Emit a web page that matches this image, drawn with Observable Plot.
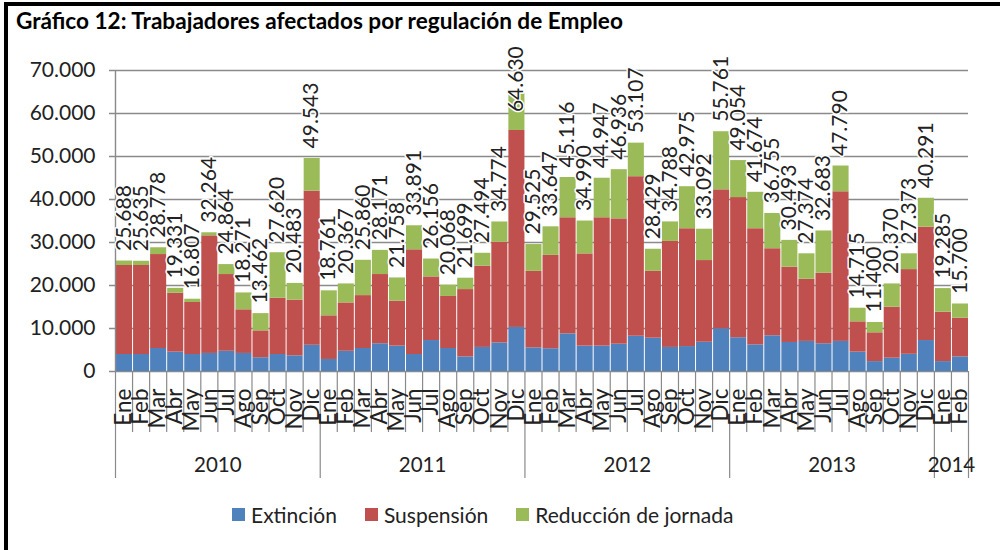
<!DOCTYPE html>
<html><head><meta charset="utf-8">
<script src="https://cdn.jsdelivr.net/npm/d3@7"></script>
<script src="https://cdn.jsdelivr.net/npm/@observablehq/plot@0.6"></script>
<style>
body{margin:0;background:#fff;font-family:Lato,"Open Sans",sans-serif;}
#wrap{position:relative;width:1000px;height:550px;overflow:hidden;background:#fff}
#frameTop{position:absolute;left:4px;top:2px;width:996px;height:4px;background:#000}
#frameLeft{position:absolute;left:4px;top:2px;width:4px;height:548px;background:#000}
#title{position:absolute;left:16px;top:7px;font-weight:bold;font-size:22.6px;color:#000;white-space:nowrap}
#chart{position:absolute;left:0;top:0}
#legend{position:absolute;top:502px;left:232px;display:flex;align-items:center;gap:28px;font-size:21px;color:#222}
.item{display:flex;align-items:center;gap:6px}
.sw{width:13px;height:13px;display:inline-block}
</style></head>
<body>
<div id="wrap">
  <div id="chart"></div>
  <div id="frameTop"></div><div id="frameLeft"></div>
  <div id="title">Gráfico 12: Trabajadores afectados por regulación de Empleo</div>
  <div id="legend"></div>
</div>
<script>
const monthNames = ["Ene","Feb","Mar","Abr","May","Jun","Jul","Ago","Sep","Oct","Nov","Dic"];
const years = ["2010","2011","2012","2013","2014"];
const monthsPerYear = [12,12,12,12,2];

const seriesNames = ["Extinción","Suspensión","Reducción de jornada"];
const seriesColors = ["#4F81BD","#C0504D","#9BBB59"];

const extincion = [
  3950,3950,5350,4500,3950,4200,4700,4200,3200,3950,3650,6100,
  2800,4700,5350,6450,5900,3950,7200,5350,3400,5600,6650,10250,
  5500,5300,8750,5900,5900,6350,8200,7750,5600,5800,6800,9950,
  7850,6200,8300,6750,7000,6450,7000,4500,2300,3100,4000,7200,
  2300,3400];
const suspension = [
  20700,20700,21850,13700,12100,27350,17850,10150,6250,13100,12950,35850,
  10150,11250,12300,16100,10450,24350,14800,12100,15650,18900,23400,45800,
  17800,21700,27000,21450,29850,29150,37100,15550,24650,27400,19000,32300,
  32600,27000,20250,17500,14450,16400,34800,7050,6700,11850,19700,26350,
  11500,9000];
const reduccion = [
  1038,985,1578,1131,757,714,2314,3921,4012,10570,3883,7593,
  5811,4417,8210,5621,5408,5591,4156,2618,2649,2994,4724,8580,
  6225,6647,9366,7640,9197,11436,7807,5129,4538,9775,7292,13511,
  8604,8474,8205,6243,5924,9833,5990,3165,2400,5420,3673,6741,
  5485,3300];
const totales = [
  25688,25635,28778,19331,16807,32264,24864,18271,13462,27620,20483,49543,
  18761,20367,25860,28171,21758,33891,26156,20068,21699,27494,34774,64630,
  29525,33647,45116,34990,44947,46936,53107,28429,34788,42975,33092,55761,
  49054,41674,36755,30493,27374,32683,47790,14715,11400,20370,27373,40291,
  19285,15700];
const yTicks = [0,10000,20000,30000,40000,50000,60000,70000];
const yMax = 70000;
const labelCeiling = 58000; // labels are kept inside the plot area, as in the original

// categories
const categories = [];
years.forEach((y, k) => { for (let m = 0; m < monthsPerYear[k]; m++) categories.push({year: y, month: monthNames[m]}); });
const N = categories.length;
const idx = d3.range(N);

const rows = [];
const seriesValues = [extincion, suspension, reduccion];
seriesNames.forEach((s, k) => idx.forEach(i => rows.push({i, serie: s, value: seriesValues[k][i]})));

// year groups
const yearGroups = [];
let start = 0;
years.forEach((y, k) => { yearGroups.push({year: y, start, end: start + monthsPerYear[k]}); start += monthsPerYear[k]; });
const yearBounds = [0, ...yearGroups.map(g => g.end)];

const loc = d3.formatLocale({decimal: ",", thousands: ".", grouping: [3], currency: ["", "€"]});
const fmt = loc.format(",d");

const grid = "#8a8a8a";
const font = "Lato, 'Open Sans', sans-serif";

const chart = Plot.plot({
  width: 1000, height: 500,
  marginLeft: 115, marginRight: 32, marginTop: 70, marginBottom: 129,
  style: {fontFamily: font, background: "transparent", color: "#222"},
  x: {domain: [0, N], axis: null},
  y: {domain: [0, yMax], axis: null},
  color: {domain: seriesNames, range: seriesColors},
  marks: [
    Plot.ruleY(yTicks, {y: d => d, stroke: grid, strokeWidth: 1.4, insetLeft: -6}),
    Plot.rectY(rows, {x: "i", interval: 1, y: "value", fill: "serie"}),
    Plot.ruleX([0], {x: d => d, stroke: grid, strokeWidth: 1.4}),
    Plot.ruleX(idx.concat([N]).filter(d => !yearBounds.includes(d)), {x: d => d, y1: 0, y2: 0, insetBottom: -61, stroke: grid, strokeWidth: 1.2}),
    Plot.ruleX(yearBounds, {x: d => d, y1: 0, y2: 0, insetBottom: -107, stroke: grid, strokeWidth: 1.2}),
    Plot.text(yTicks, {x: 0, y: d => d, text: d => fmt(d), textAnchor: "end", dx: -20, fontSize: 21, fill: "#222"}),
    Plot.text(idx, {x: i => i + 0.5, y: 0, text: i => categories[i].month, rotate: -90, textAnchor: "end", dy: 17, fontSize: 22.5, fill: "#222"}),
    Plot.text(yearGroups, {x: g => (g.start + g.end) / 2, y: 0, text: "year", dy: 94, fontSize: 20.5, fill: "#222"}),
    Plot.text(idx, {x: i => i + 0.5, y: i => Math.min(totales[i], labelCeiling), text: i => fmt(totales[i]), rotate: -90, textAnchor: "start", dy: -10, fontSize: 21, fill: "#222", stroke: "white", strokeWidth: 3})
  ]
});
document.getElementById("chart").appendChild(chart);

const legend = document.getElementById("legend");
seriesNames.forEach((s, k) => {
  const it = document.createElement("div"); it.className = "item";
  const sw = document.createElement("span"); sw.className = "sw"; sw.style.background = seriesColors[k];
  const tx = document.createElement("span"); tx.textContent = s;
  it.appendChild(sw); it.appendChild(tx); legend.appendChild(it);
});
</script>
</body></html>
